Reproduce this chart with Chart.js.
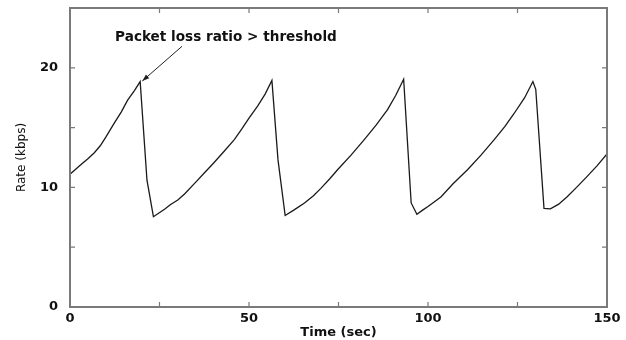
<!DOCTYPE html>
<html>
<head>
<meta charset="utf-8">
<script src="https://cdn.jsdelivr.net/npm/chart.js@4"></script>
<style>
  body { margin: 0; background: #fff; }
</style>
</head>
<body>
<canvas id="rateChart" width="626" height="340"></canvas>
<script>
// rate trace (sec, kbps)
const time = [0, 1.5, 3, 5, 6.8, 8.5, 10, 12.4, 14.3, 16.1, 18, 19.6, 21.5, 23.3,
  26.5, 28, 30.1, 32, 35, 37.5, 40, 43, 45.9, 48, 50, 52.4, 54.5, 56.4, 58.1, 60.1,
  62.5, 65.5, 68, 70, 72.5, 74.8, 78.5, 82.2, 85.5, 88.7, 91, 93.2, 95.3, 96.9,
  98.5, 100, 103.6, 107, 111.1, 114.8, 118.5, 121.5, 124.1, 127, 129.3, 130.1, 132.4, 134.2,
  136.5, 138.8, 141.5, 144.4, 147.2, 150];
const rate = [11.1, 11.5, 11.9, 12.4, 12.9, 13.5, 14.2, 15.4, 16.3, 17.3, 18.1, 18.85, 10.6, 7.55,
  8.2, 8.55, 8.95, 9.45, 10.4, 11.2, 12.0, 13.0, 14.0, 14.9, 15.8, 16.8, 17.8, 18.95, 12.3, 7.65,
  8.1, 8.7, 9.3, 9.9, 10.7, 11.5, 12.7, 14.0, 15.2, 16.5, 17.7, 19.05, 8.7, 7.75,
  8.1, 8.4, 9.2, 10.3, 11.5, 12.7, 14.0, 15.1, 16.2, 17.5, 18.85, 18.2, 8.25, 8.2,
  8.6, 9.2, 10.0, 10.9, 11.8, 12.8];

const xLabels = [0, 50, 100, 150];
const yLabels = [0, 10, 20];

const noteText = 'Packet loss ratio > threshold';
const notePos = [12.6, 22.5];
const arrowFrom = [31.3, 21.8];
const arrowTo = [20.2, 18.9];

const axisGrey = '#7a7a7a';

const frame = {
  id: 'frame',
  afterDatasetsDraw(chart) {
    const { ctx, chartArea: a, scales: { x, y } } = chart;
    ctx.save();
    ctx.strokeStyle = axisGrey;
    ctx.lineWidth = 2;
    ctx.strokeRect(a.left, a.top, a.right - a.left, a.bottom - a.top);

    // inward tick marks on all four sides
    ctx.lineWidth = 1.2;
    ctx.beginPath();
    x.ticks.forEach(t => {
      const px = x.getPixelForValue(t.value);
      ctx.moveTo(px, a.bottom); ctx.lineTo(px, a.bottom - 5);
      ctx.moveTo(px, a.top); ctx.lineTo(px, a.top + 5);
    });
    y.ticks.forEach(t => {
      const py = y.getPixelForValue(t.value);
      ctx.moveTo(a.left, py); ctx.lineTo(a.left + 5, py);
      ctx.moveTo(a.right, py); ctx.lineTo(a.right - 5, py);
    });
    ctx.stroke();

    // annotation
    const x0 = x.getPixelForValue(arrowFrom[0]), y0 = y.getPixelForValue(arrowFrom[1]);
    const x1 = x.getPixelForValue(arrowTo[0]), y1 = y.getPixelForValue(arrowTo[1]);
    ctx.strokeStyle = '#222';
    ctx.lineWidth = 1;
    ctx.beginPath();
    ctx.moveTo(x0, y0);
    ctx.lineTo(x1, y1);
    ctx.stroke();
    const ang = Math.atan2(y1 - y0, x1 - x0);
    ctx.fillStyle = '#222';
    ctx.beginPath();
    ctx.moveTo(x1, y1);
    ctx.lineTo(x1 - 7 * Math.cos(ang) + 2.5 * Math.sin(ang), y1 - 7 * Math.sin(ang) - 2.5 * Math.cos(ang));
    ctx.lineTo(x1 - 7 * Math.cos(ang) - 2.5 * Math.sin(ang), y1 - 7 * Math.sin(ang) + 2.5 * Math.cos(ang));
    ctx.closePath();
    ctx.fill();

    ctx.font = 'bold 13.6px "DejaVu Sans"';
    ctx.fillStyle = '#111';
    ctx.textAlign = 'left';
    ctx.textBaseline = 'middle';
    ctx.fillText(noteText, x.getPixelForValue(notePos[0]), y.getPixelForValue(notePos[1]));
    ctx.restore();
  }
};

let ctx = document.getElementById('rateChart').getContext('2d');

const rateChart = new Chart(ctx,
  {
    type: 'line',
    data:
    {
      datasets:
        [{
          data: time.map((t, i) => ({ x: t, y: rate[i] })),
          borderColor: '#1a1a1a',
          borderWidth: 1.3,
          pointRadius: 0,
          tension: 0,
          fill: false,
        }]
    },
    options:
    {
      responsive: false,
      animation: false,
      layout: { padding: { top: 8, right: 19, left: 0, bottom: 0 } },
      scales:
      {
        x:
        {
          type: 'linear',
          min: 0,
          max: 150,
          afterFit: s => { s.height = 33; },
          grid: { display: false, drawTicks: false },
          border: { display: false },
          ticks:
          {
            stepSize: 25,
            autoSkip: false,
            maxRotation: 0,
            padding: 4,
            color: '#111',
            font: { family: 'DejaVu Sans', size: 13, weight: 'bold' },
            callback: v => xLabels.includes(v) ? String(v) : ''
          },
          title:
          {
            display: true,
            text: 'Time (sec)',
            color: '#111',
            font: { family: 'DejaVu Sans', size: 13, weight: 'bold' },
            padding: { top: 0, bottom: 0 }
          }
        },
        y:
        {
          min: 0,
          max: 25,
          afterFit: s => { s.width = 70; s.paddingTop = 0; s.paddingBottom = 0; },
          grid: { display: false, drawTicks: false },
          border: { display: false },
          ticks:
          {
            stepSize: 5,
            autoSkip: false,
            padding: 12,
            color: '#111',
            font: { family: 'DejaVu Sans', size: 13, weight: 'bold' },
            callback: v => yLabels.includes(v) ? String(v) : ''
          },
          title:
          {
            display: true,
            text: 'Rate (kbps)',
            color: '#111',
            font: { family: 'DejaVu Sans', size: 12 },
            padding: { top: 15, bottom: 0 }
          }
        }
      },
      plugins:
      {
        legend: { display: false },
        tooltip: { enabled: false }
      }
    },
    plugins: [frame]
  });
</script>
</body>
</html>
